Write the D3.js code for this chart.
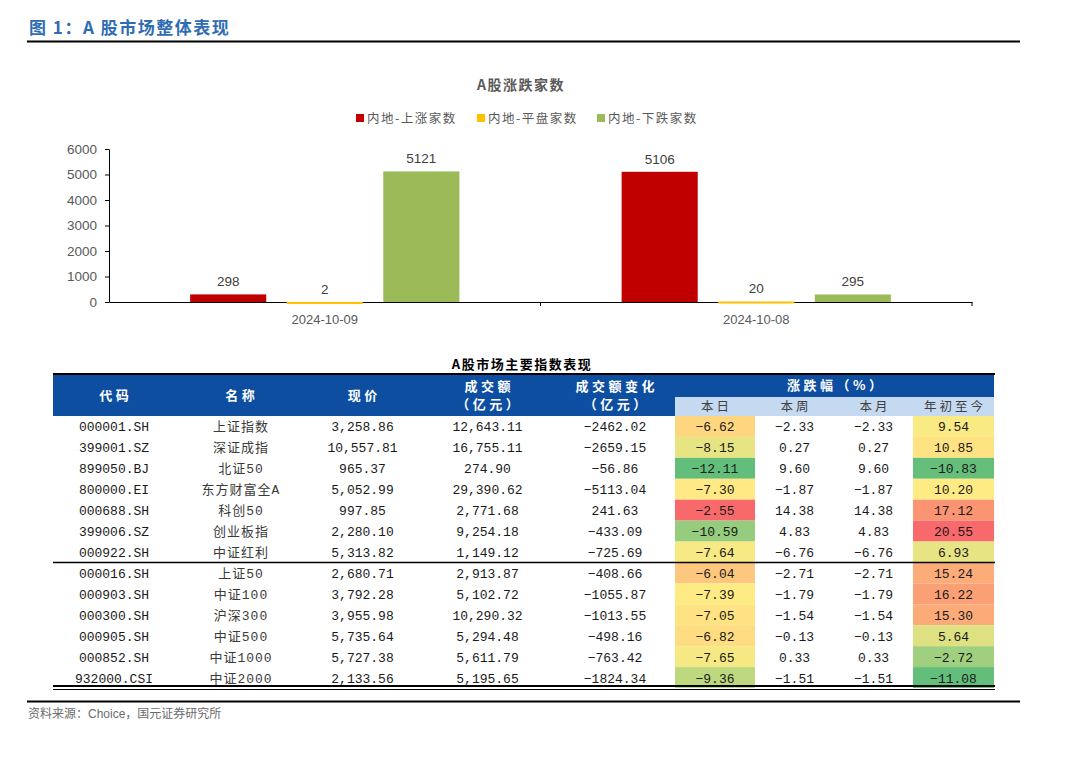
<!DOCTYPE html>
<html>
<head>
<meta charset="utf-8">
<script src="https://cdn.jsdelivr.net/npm/d3@7"></script>
<style>
  body { margin: 0; background: #fff; }
  svg { display: block; }
</style>
</head>
<body>
<div id="chart"></div>
<script>
// bar chart data
const dates = ["2024-10-09", "2024-10-08"];
const seriesNames = ["内地-上涨家数", "内地-平盘家数", "内地-下跌家数"];
const upCounts = [298, 5106];
const flatCounts = [2, 20];
const downCounts = [5121, 295];
const yTicks = [0, 1000, 2000, 3000, 4000, 5000, 6000];

// table data
const codes = ["000001.SH", "399001.SZ", "899050.BJ", "800000.EI", "000688.SH", "399006.SZ", "000922.SH",
  "000016.SH", "000903.SH", "000300.SH", "000905.SH", "000852.SH", "932000.CSI"];
const names = ["上证指数", "深证成指", "北证50", "东方财富全A", "科创50", "创业板指", "中证红利",
  "上证50", "中证100", "沪深300", "中证500", "中证1000", "中证2000"];
const prices = [3258.86, 10557.81, 965.37, 5052.99, 997.85, 2280.10, 5313.82,
  2680.71, 3792.28, 3955.98, 5735.64, 5727.38, 2133.56];
const volumes = [12643.11, 16755.11, 274.90, 29390.62, 2771.68, 9254.18, 1149.12,
  2913.87, 5102.72, 10290.32, 5294.48, 5611.79, 5195.65];
const volChanges = [-2462.02, -2659.15, -56.86, -5113.04, 241.63, -433.09, -725.69,
  -408.66, -1055.87, -1013.55, -498.16, -763.42, -1824.34];
const pctDay = [-6.62, -8.15, -12.11, -7.30, -2.55, -10.59, -7.64, -6.04, -7.39, -7.05, -6.82, -7.65, -9.36];
const pctWeek = [-2.33, 0.27, 9.60, -1.87, 14.38, 4.83, -6.76, -2.71, -1.79, -1.54, -0.13, 0.33, -1.51];
const pctMonth = [-2.33, 0.27, 9.60, -1.87, 14.38, 4.83, -6.76, -2.71, -1.79, -1.54, -0.13, 0.33, -1.51];
const pctYtd = [9.54, 10.85, -10.83, 10.20, 17.12, 20.55, 6.93, 15.24, 16.22, 15.30, 5.64, -2.72, -11.08];

const W = 1080, H = 780;
const CJK = "'Noto Sans CJK SC', sans-serif";
const SANS = "'Liberation Sans', Arial, 'Noto Sans CJK SC', sans-serif";
const MONO = "'Liberation Mono', 'Noto Sans CJK SC', monospace";

const svg = d3.select("#chart").append("svg").attr("width", W).attr("height", H);

// page title + rule
svg.append("text").attr("x", 29).attr("y", 34)
  .attr("font-family", CJK).attr("font-weight", "bold").attr("font-size", 17)
  .attr("fill", "#2e6cb3").attr("letter-spacing", 1.5)
  .text("图 1：A 股市场整体表现");
svg.append("line").attr("x1", 27).attr("x2", 1020).attr("y1", 41.5).attr("y2", 41.5)
  .attr("stroke", "#000").attr("stroke-width", 2);

// ---------- bar chart ----------
const colors = ["#c00000", "#ffc000", "#9bbb59"];
const barData = dates.map((d, i) => ({
  date: d,
  values: [upCounts[i], flatCounts[i], downCounts[i]].map((v, j) => ({ key: seriesNames[j], value: v }))
}));

svg.append("text").attr("x", 521).attr("y", 90).attr("text-anchor", "middle")
  .attr("font-family", CJK).attr("font-weight", "bold").attr("font-size", 14)
  .attr("fill", "#595959").attr("letter-spacing", 1.5)
  .text("A股涨跌家数");

// legend
const legendX = [356, 477, 597];
const legend = svg.append("g");
seriesNames.forEach((s, i) => {
  legend.append("rect").attr("x", legendX[i]).attr("y", 114).attr("width", 8).attr("height", 8).attr("fill", colors[i]);
  legend.append("text").attr("x", legendX[i] + 11).attr("y", 123)
    .attr("font-family", CJK).attr("font-size", 12.5).attr("fill", "#595959").attr("letter-spacing", 1.5)
    .text(s);
});

const x0 = d3.scaleBand().domain(dates).range([109, 972]);
const x1 = d3.scaleBand().domain(seriesNames).range([0, x0.bandwidth()]).paddingInner(0.212).paddingOuter(0.84);
const y = d3.scaleLinear().domain([0, 6000]).range([302, 149]);

const yAxis = svg.append("g").attr("transform", "translate(109,0)")
  .call(d3.axisLeft(y).tickValues(yTicks).tickSize(4).tickSizeOuter(0).tickFormat(d3.format("d")));
yAxis.select(".domain").attr("stroke", "#000");
yAxis.selectAll(".tick line").attr("stroke", "#000");
yAxis.selectAll("text").attr("font-family", SANS).attr("font-size", 13.5).attr("fill", "#595959").attr("x", -12);

const xAxis = svg.append("g").attr("transform", "translate(0,302)")
  .call(d3.axisBottom(x0).tickSize(0).tickSizeOuter(0));
xAxis.select(".domain").attr("stroke", "#000");
xAxis.selectAll("text").attr("font-family", SANS).attr("font-size", 13).attr("fill", "#595959").attr("dy", "1.45em");
// separator ticks between categories
svg.append("g").selectAll("line").data(dates)
  .join("line")
  .attr("x1", d => x0(d) + x0.bandwidth()).attr("x2", d => x0(d) + x0.bandwidth())
  .attr("y1", 302).attr("y2", 306).attr("stroke", "#000");

const groups = svg.append("g").selectAll("g").data(barData).join("g")
  .attr("transform", d => `translate(${x0(d.date)},0)`);
groups.selectAll("rect").data(d => d.values).join("rect")
  .attr("x", d => x1(d.key)).attr("width", x1.bandwidth())
  .attr("y", d => y(d.value)).attr("height", d => Math.max(2, 302 - y(d.value)))
  .attr("fill", (d, i) => colors[i]);
groups.selectAll("text").data(d => d.values).join("text")
  .attr("x", d => x1(d.key) + x1.bandwidth() / 2).attr("y", d => y(d.value) - 8)
  .attr("text-anchor", "middle").attr("font-family", SANS).attr("font-size", 13.5).attr("fill", "#404040")
  .text(d => d.value);

// ---------- table ----------
svg.append("text").attr("x", 522).attr("y", 369).attr("text-anchor", "middle")
  .attr("font-family", CJK).attr("font-weight", "bold").attr("font-size", 13).attr("fill", "#000")
  .attr("letter-spacing", 1.5)
  .text("A股市场主要指数表现");

const tLeft = 53, tRight = 994;
const colEdges = [53, 175, 305, 420, 555, 675, 755, 834, 913, 994];
const colMid = i => (colEdges[i] + colEdges[i + 1]) / 2;

// header background
svg.append("rect").attr("x", tLeft).attr("y", 375).attr("width", tRight - tLeft).attr("height", 41).attr("fill", "#0d4ea1");
svg.append("rect").attr("x", colEdges[5]).attr("y", 397).attr("width", tRight - colEdges[5]).attr("height", 19).attr("fill", "#c5d9f1");
svg.append("line").attr("x1", tLeft).attr("x2", tRight + 1).attr("y1", 374).attr("y2", 374).attr("stroke", "#000").attr("stroke-width", 2);

const head = svg.append("g").attr("font-family", CJK).attr("font-weight", "bold").attr("font-size", 13)
  .attr("fill", "#fff").attr("text-anchor", "middle").attr("letter-spacing", 3.5);
[["代码"], ["名称"], ["现价"], ["成交额", "（亿元）"], ["成交额变化", "（亿元）"]].forEach((lines, i) => {
  lines.forEach((t, k) => {
    const yy = lines.length === 1 ? 400 : 391 + k * 18;
    head.append("text").attr("x", colMid(i) + 1.75).attr("y", yy).text(t);
  });
});
head.append("text").attr("x", (colEdges[5] + tRight) / 2 + 1.75).attr("y", 390).text("涨跌幅（%）");
const subHeads = ["本日", "本周", "本月", "年初至今"];
svg.append("g").selectAll("text").data(subHeads).join("text")
  .attr("x", (d, i) => colMid(5 + i) + 1.5).attr("y", 411).attr("text-anchor", "middle")
  .attr("font-family", CJK).attr("font-size", 12.5).attr("fill", "#404040").attr("letter-spacing", 3)
  .text(d => d);

// rows
const row = d3.scaleBand().domain(codes).range([416, 688]);
const heat = vals => d3.scaleLinear()
  .domain([d3.min(vals), d3.median(vals), d3.max(vals)])
  .range(["#63be7b", "#ffeb84", "#f8696b"]);
const dayColor = heat(pctDay), ytdColor = heat(pctYtd);

svg.append("g").selectAll("rect").data(codes).join("rect")
  .attr("x", colEdges[5]).attr("width", colEdges[6] - colEdges[5])
  .attr("y", d => row(d)).attr("height", row.bandwidth())
  .attr("fill", (d, i) => dayColor(pctDay[i]));
svg.append("g").selectAll("rect").data(codes).join("rect")
  .attr("x", colEdges[8]).attr("width", colEdges[9] - colEdges[8])
  .attr("y", d => row(d)).attr("height", row.bandwidth())
  .attr("fill", (d, i) => ytdColor(pctYtd[i]));

const fmtComma = d3.format(",.2f"), fmt2 = d3.format(".2f");
const columns = [
  codes, names, prices.map(fmtComma), volumes.map(fmtComma), volChanges.map(fmt2),
  pctDay.map(fmt2), pctWeek.map(fmt2), pctMonth.map(fmt2), pctYtd.map(fmt2)
];
columns.forEach((col, c) => {
  svg.append("g").selectAll("text").data(col).join("text")
    .attr("x", colMid(c) + (c === 1 ? 1 : 0)).attr("y", (d, i) => row(codes[i]) + row.bandwidth() / 2 + 5)
    .attr("text-anchor", "middle").attr("font-family", MONO).attr("font-size", 13)
    .attr("fill", c === 1 ? "#3a3a3a" : "#1a1a1a")
    .attr("letter-spacing", c === 1 ? 1 : 0)
    .text(d => d);
});

// table rules
svg.append("line").attr("x1", tLeft).attr("x2", tRight + 1)
  .attr("y1", row(codes[7])).attr("y2", row(codes[7])).attr("stroke", "#000").attr("stroke-width", 1.5);
svg.append("line").attr("x1", tLeft).attr("x2", tRight + 1).attr("y1", 686).attr("y2", 686).attr("stroke", "#000").attr("stroke-width", 2);
svg.append("line").attr("x1", tLeft).attr("x2", tRight + 1).attr("y1", 689.5).attr("y2", 689.5).attr("stroke", "#000").attr("stroke-width", 1);

// footer
svg.append("line").attr("x1", 27).attr("x2", 1020).attr("y1", 701.5).attr("y2", 701.5).attr("stroke", "#000").attr("stroke-width", 2);
svg.append("text").attr("x", 28).attr("y", 718)
  .attr("font-family", SANS).attr("font-size", 12).attr("fill", "#6b6b6b")
  .text("资料来源：Choice，国元证券研究所");
</script>
</body>
</html>
